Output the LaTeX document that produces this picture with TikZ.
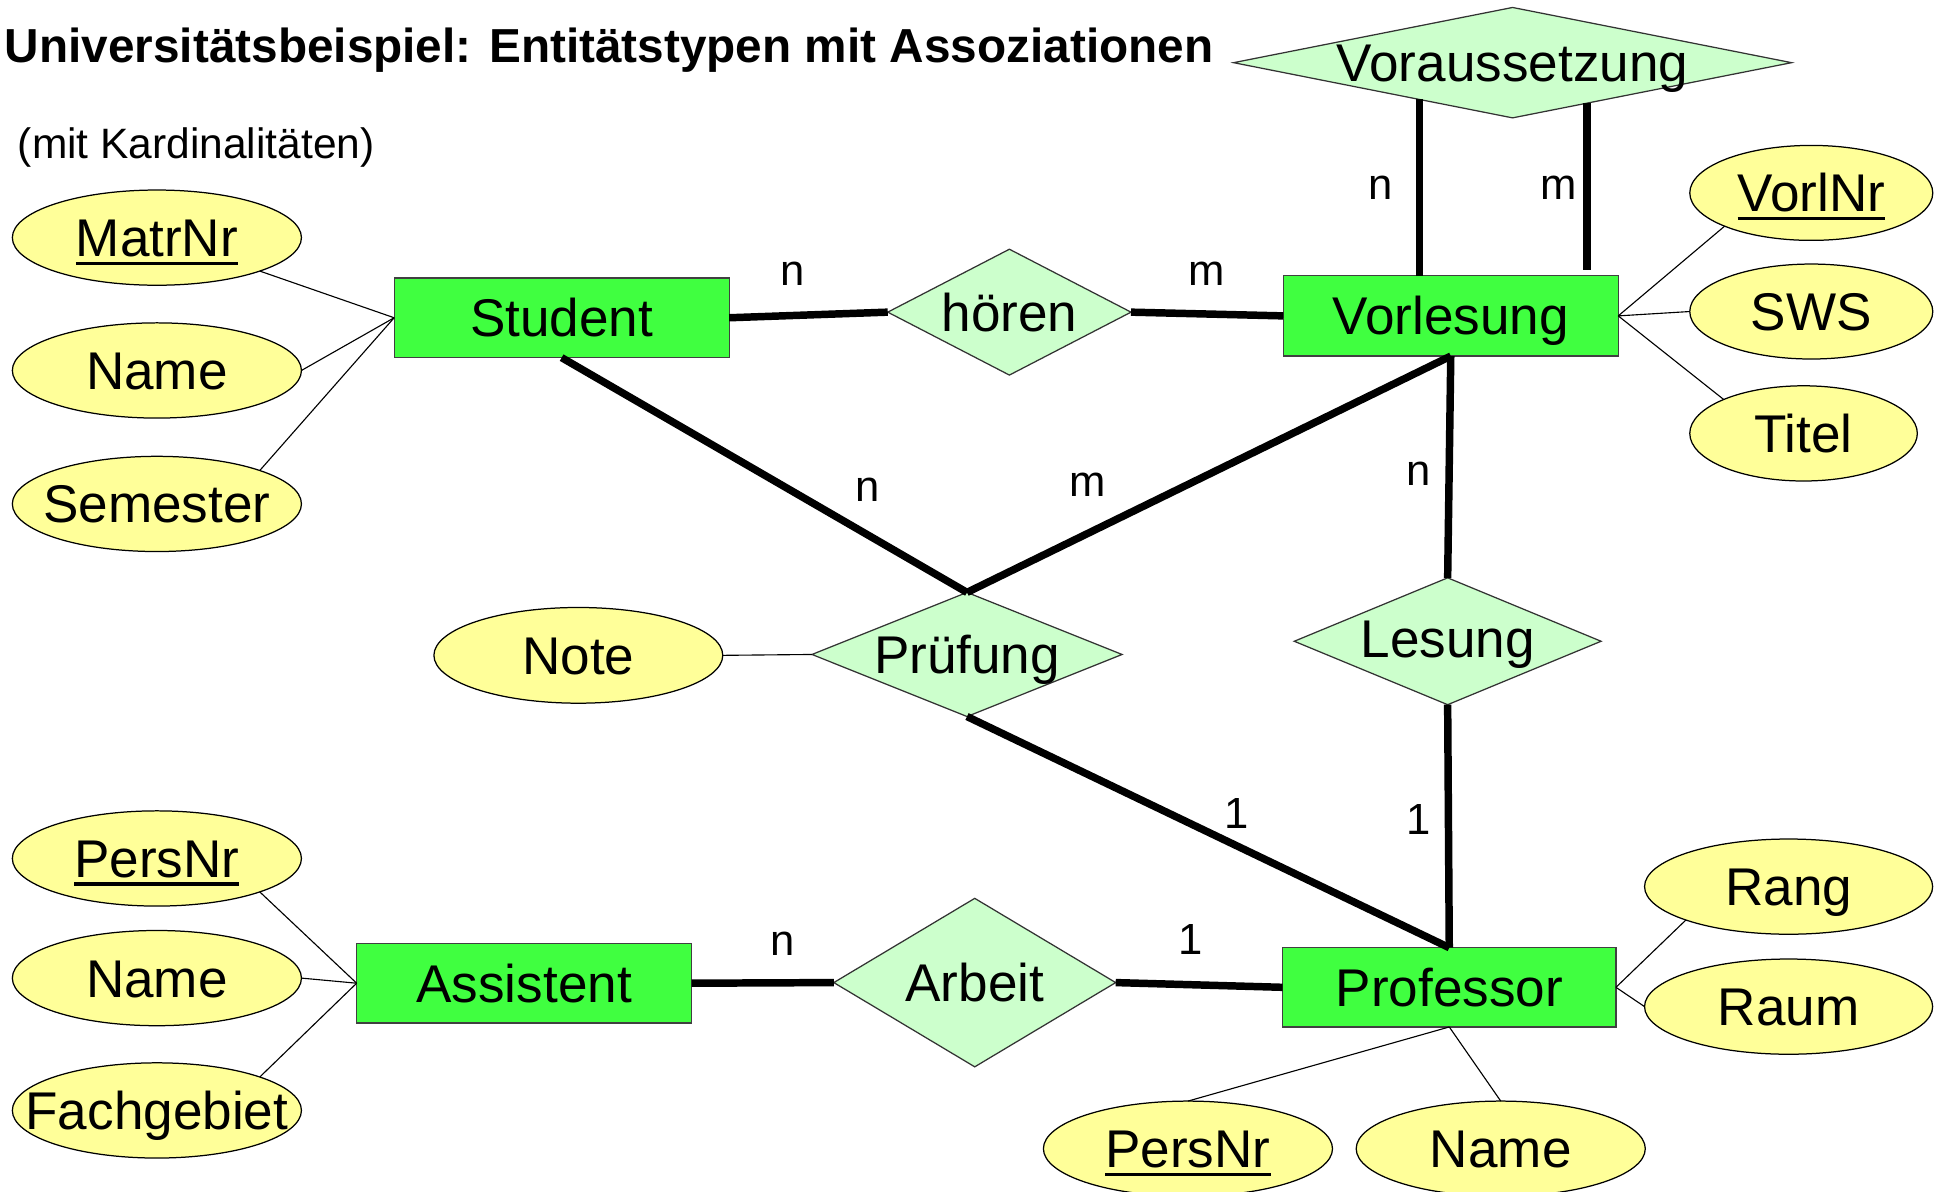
\documentclass[tikz,border=0pt]{standalone}
\usepackage{fontspec}
\setmainfont{Liberation Sans}
\usetikzlibrary{shapes.geometric,calc}
\definecolor{entgreen}{RGB}{64,255,64}
\definecolor{relgreen}{RGB}{204,255,204}
\definecolor{attyellow}{RGB}{255,255,153}
\newcommand{\keyul}[1]{\setbox0\hbox{#1}\rlap{\rule[-3.4pt]{\wd0}{1.4pt}}\box0}
\begin{document}
\begin{tikzpicture}[x=0.5pt,y=-0.5pt,
  ent/.style={rectangle,draw=black!75,fill=entgreen,line width=0.5pt,inner sep=0pt,outer sep=0pt,minimum width=134.4pt,minimum height=32pt},
  rel/.style={diamond,draw=black!80,fill=relgreen,line width=0.5pt,inner sep=0pt,outer sep=0pt},
  att/.style={ellipse,draw=black,fill=attyellow,line width=0.5pt,inner sep=0pt,outer sep=0pt,minimum width=116pt,minimum height=38.2pt},
  lbl/.style={font=\fontsize{21.3}{25}\selectfont,inner sep=0pt,anchor=base},
  card/.style={font=\fontsize{17.5}{21}\selectfont,inner sep=0pt,anchor=base},
  bond/.style={line width=3pt},
  attline/.style={line width=0.45pt}]
\useasboundingbox (0,0) rectangle (1560,955.8);
\clip (0,0) rectangle (1560,955.8);

% titles
\node[font=\bfseries\fontsize{19.15}{23}\selectfont,inner sep=0pt,anchor=base west] (title) at (3.5,50.5) {Universitätsbeispiel: Entitätstypen mit Assoziationen};
\node[font=\fontsize{17.05}{21}\selectfont,inner sep=0pt,anchor=base west] (subtitle) at (14,127.5) {(mit Kardinalitäten)};

% entities
\node[ent] (stud) at (450.7,255) {};
\node[lbl] (stud-t) at ([yshift=-7.6pt]stud.center) {Student};
\node[ent,minimum height=32.25pt] (vl) at (1164.2,253.5) {};
\node[lbl] (vl-t) at ([yshift=-7.6pt]vl.center) {Vorlesung};
\node[ent,minimum width=133.75pt,minimum height=31.8pt] (prof) at (1163,792.3) {};
\node[lbl] (prof-t) at ([yshift=-7.6pt]prof.center) {Professor};
\node[ent,minimum height=31.85pt] (asst) at (420.6,789) {};
\node[lbl] (asst-t) at ([yshift=-7.6pt]asst.center) {Assistent};

% relationships
\node[rel,minimum width=97.6pt,minimum height=50.5pt] (hoe) at (810,250.5) {};
\node[lbl] (hoe-t) at ([yshift=-7.6pt]hoe.center) {hören};
\node[rel,minimum width=223.9pt,minimum height=44.3pt] (vs) at (1213.8,50.3) {};
\node[lbl] (vs-t) at ([yshift=-7.6pt]vs.center) {Voraussetzung};
\node[rel,minimum width=124.4pt,minimum height=49.8pt] (pr) at (776,525.2) {};
\node[lbl] (pr-t) at ([yshift=-7.6pt]pr.center) {Prüfung};
\node[rel,minimum width=123.1pt,minimum height=50.9pt] (les) at (1161.7,514.6) {};
\node[lbl] (les-t) at ([yshift=-6.6pt]les.center) {Lesung};
\node[rel,minimum width=113.1pt,minimum height=67.6pt] (arb) at (782.2,788.5) {};
\node[lbl] (arb-t) at ([yshift=-7.6pt]arb.center) {Arbeit};

% attributes
\node[att] (matr) at (125.9,190.7) {};
\node[lbl] (matr-t) at ([yshift=-7.6pt]matr.center) {\keyul{MatrNr}};
\node[att] (nam1) at (125.9,297.3) {};
\node[lbl] (nam1-t) at ([yshift=-7.6pt]nam1.center) {Name};
\node[att] (sem) at (125.9,404.4) {};
\node[lbl] (sem-t) at ([yshift=-7.6pt]sem.center) {Semester};

\node[att,minimum width=97.5pt,minimum height=38.1pt] (vnr) at (1453.5,154.8) {};
\node[lbl] (vnr-t) at ([yshift=-7.6pt]vnr.center) {\keyul{VorlNr}};
\node[att,minimum width=97.5pt,minimum height=38.1pt] (sws) at (1453.5,250) {};
\node[lbl] (sws-t) at ([yshift=-7.6pt]sws.center) {SWS};
\node[att,minimum width=91.3pt,minimum height=38.2pt] (tit) at (1447.3,347.8) {};
\node[lbl] (tit-t) at ([yshift=-7.6pt]tit.center) {Titel};

\node[att,minimum width=115.9pt,minimum height=38.4pt] (note) at (464.1,525.9) {};
\node[lbl] (note-t) at ([yshift=-7.6pt]note.center) {Note};

\node[att] (pnr1) at (125.9,688.9) {};
\node[lbl] (pnr1-t) at ([yshift=-7.6pt]pnr1.center) {\keyul{PersNr}};
\node[att] (nam2) at (125.9,784.9) {};
\node[lbl] (nam2-t) at ([yshift=-7.6pt]nam2.center) {Name};
\node[att] (fach) at (125.9,891.1) {};
\node[lbl] (fach-t) at ([yshift=-7.6pt]fach.center) {Fachgebiet};

\node[att,minimum width=115.6pt] (rang) at (1435.3,711.5) {};
\node[lbl] (rang-t) at ([yshift=-7.6pt]rang.center) {Rang};
\node[att,minimum width=115.6pt] (raum) at (1435.3,807.8) {};
\node[lbl] (raum-t) at ([yshift=-7.6pt]raum.center) {Raum};
\node[att] (pnr2) at (953.3,921.8) {};
\node[lbl] (pnr2-t) at ([yshift=-7.6pt]pnr2.center) {\keyul{PersNr}};
\node[att] (nam3) at (1204.3,921.8) {};
\node[lbl] (nam3-t) at ([yshift=-7.6pt]nam3.center) {Name};

% attribute connectors
\draw[attline] (matr.-18) -- (stud.west);
\draw[attline] (nam1.east) -- (stud.west);
\draw[attline] (sem.18) -- (stud.west);
\draw[attline] (vl.east) -- (vnr.201.5);
\draw[attline] (vl.east) -- (sws.west);
\draw[attline] (vl.east) -- (tit.157.3);
\draw[attline] (note.east) -- (pr.west);
\draw[attline] (pnr1.-18) -- (asst.west);
\draw[attline] (nam2.east) -- (asst.west);
\draw[attline] (fach.18.5) -- (asst.west);
\draw[attline] (prof.east) -- (rang.198.8);
\draw[attline] (prof.east) -- (raum.west);
\draw[attline] (prof.south) -- (pnr2.north);
\draw[attline] (prof.south) -- (nam3.north);

% relationship connectors
\coordinate (vsl) at ($(vs.west)!0.666!(vs.south)$);
\coordinate (vsr) at ($(vs.east)!0.733!(vs.south)$);
\coordinate (vslend) at (vsl |- vl.north);
\coordinate (vsrend) at ($(vsr |- vl.north)+(0,-4.7)$);
\draw[bond] (vsl) -- (vslend);
\draw[bond] (vsr) -- (vsrend);
\draw[bond] (stud.east) -- (hoe.west);
\draw[bond] (hoe.east) -- (vl.west);
\draw[bond] (stud.south) -- (pr.north);
\draw[bond] (vl.south) -- (pr.north);
\draw[bond] (vl.south) -- (les.north);
\draw[bond] (pr.south) -- (prof.north);
\draw[bond] (les.south) -- (prof.north);
\draw[bond] (asst.east) -- (arb.west);
\draw[bond] (arb.east) -- (prof.west);

% cardinalities
\node[card] (c1) at (636,229.2) {n};
\node[card] (c2) at (968.3,229.2) {m};
\node[card] (c3) at (1108.3,160.3) {n};
\node[card] (c4) at (1250.5,160.3) {m};
\node[card] (c5) at (695.9,402.3) {n};
\node[card] (c6) at (872.5,398.6) {m};
\node[card] (c7) at (1138.6,390) {n};
\node[card] (c8) at (992.7,665.2) {1};
\node[card] (c9) at (1138,669.9) {1};
\node[card] (c10) at (627.8,766.6) {n};
\node[card] (c11) at (955.4,766) {1};
\end{tikzpicture}
\end{document}
